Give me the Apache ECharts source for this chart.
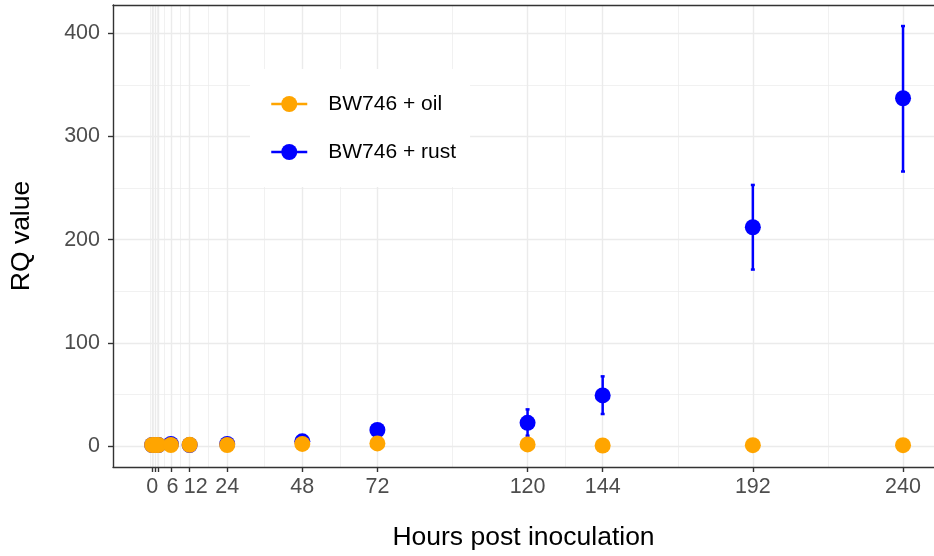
<!DOCTYPE html>
<html lang="en">
<head>
  <meta charset="UTF-8">
  <title>RQ value</title>
  <style>
    html, body { margin: 0; padding: 0; background: #fff; }
  </style>
</head>
<body>
  <div id="main" style="width: 934px; height: 556px;"></div>
  <script src="https://cdn.jsdelivr.net/npm/echarts@6/dist/echarts.min.js"></script>
  <script type="text/javascript">
    // data
    var hours = [0, 1, 2, 6, 12, 24, 48, 72, 120, 144, 192, 240];
    var oil = [1, 1, 1, 1, 1.2, 1, 2, 2.5, 1.5, 0.5, 0.8, 0.8];
    var rust = [1, 1, 1, 2, 1, 2, 4.5, 15.5, 22.5, 49, 212, 337];
    var rustLo = [1, 1, 1, 1.5, 0.8, 1.5, 3.5, 13, 10, 31, 171, 266];
    var rustHi = [1, 1, 1, 2.5, 1.2, 2.5, 5.5, 18, 35.5, 67.5, 253, 407];

    // axis breaks
    var xTicks = [0, 1, 2, 6, 12, 24, 48, 72, 120, 144, 192, 240];
    var xLabels = [0, 6, 12, 24, 48, 72, 120, 144, 192, 240];
    var xMinor = [-0.5, 0.5, 1.5, 4, 9, 18, 36, 60, 96, 132, 168, 216];
    var yTicks = [0, 100, 200, 300, 400];
    var yMinor = [50, 150, 250, 350];

    var font = 'Liberation Sans, Arial, sans-serif';
    var gridCol = '#EBEBEB';
    var border = { show: true, onZero: false, lineStyle: { color: '#333333', width: 1.4 } };

    function gridLines() {
      var d = [];
      xMinor.forEach(function (v) { d.push({ xAxis: v, lineStyle: { width: 0.7 } }); });
      yMinor.forEach(function (v) { d.push({ yAxis: v, lineStyle: { width: 0.7 } }); });
      xTicks.forEach(function (v) { d.push({ xAxis: v, lineStyle: { width: 1.4 } }); });
      yTicks.forEach(function (v) { d.push({ yAxis: v, lineStyle: { width: 1.4 } }); });
      return d;
    }

    function errBar(color) {
      return function (params, api) {
        var x = api.value(0);
        var top = api.coord([x, api.value(2)]);
        var bot = api.coord([x, api.value(1)]);
        var w = 2;
        var st = { stroke: color, lineWidth: 2.5 };
        return {
          type: 'group',
          children: [
            { type: 'line', shape: { x1: top[0], y1: top[1], x2: bot[0], y2: bot[1] }, style: st },
            { type: 'line', shape: { x1: top[0] - w, y1: top[1], x2: top[0] + w, y2: top[1] }, style: st },
            { type: 'line', shape: { x1: bot[0] - w, y1: bot[1], x2: bot[0] + w, y2: bot[1] }, style: st }
          ]
        };
      };
    }

    var myChart = echarts.init(document.getElementById('main'));

    var option = {
      animation: false,
      backgroundColor: '#fff',
      grid: { left: 113, right: 0, top: 5, bottom: 88 },
      legend: {
        orient: 'vertical',
        left: 250, top: 69,
        padding: [24, 14, 24, 20],
        backgroundColor: '#fff',
        itemWidth: 36, itemHeight: 20, itemGap: 26,
        textStyle: { fontFamily: font, fontSize: 21, color: '#000', lineHeight: 22, padding: [0, 0, 0, 16] },
        data: [
          { name: 'BW746 + oil', lineStyle: { color: '#FFA500', width: 2.5, opacity: 1 } },
          { name: 'BW746 + rust', lineStyle: { color: '#0000FF', width: 2.5, opacity: 1 } }
        ]
      },
      xAxis: [{
        type: 'value', min: -12.5, max: 249.9,
        name: 'Hours post inoculation', nameLocation: 'middle', nameGap: 57,
        nameTextStyle: { fontFamily: font, fontSize: 26.5, color: '#000' },
        axisLine: border,
        axisTick: { show: true, inside: false, length: 5, customValues: xTicks, lineStyle: { color: '#333333', width: 1.4 } },
        axisLabel: {
          customValues: xLabels, margin: 9, fontFamily: font, fontSize: 21.5, color: '#4D4D4D',
          formatter: function (v) {
            if (v === 6) return '{s6|6}';
            if (v === 12) return '{s12|12}';
            return String(v);
          },
          rich: {
            s6: { fontFamily: font, fontSize: 21.5, color: '#4D4D4D', padding: [0, 0, 0, 3] },
            s12: { fontFamily: font, fontSize: 21.5, color: '#4D4D4D', padding: [0, 0, 0, 12] }
          }
        },
        splitLine: { show: false }
      }, {
        type: 'value', position: 'top', min: -12.5, max: 249.9,
        axisLine: border, axisTick: { show: false }, axisLabel: { show: false }, splitLine: { show: false }
      }],
      yAxis: {
        type: 'value', min: -20.35, max: 427.4,
        name: 'RQ value', nameLocation: 'middle', nameGap: 78, nameRotate: 90,
        nameTextStyle: { fontFamily: font, fontSize: 26.5, color: '#000' },
        axisLine: border,
        axisTick: { show: true, inside: false, length: 5, customValues: yTicks, lineStyle: { color: '#333333', width: 1.4 } },
        axisLabel: { customValues: yTicks, margin: 13, fontFamily: font, fontSize: 21.5, color: '#4D4D4D' },
        splitLine: { show: false }
      },
      series: [
        {
          name: 'grid', type: 'line', data: [], z: 0, silent: true,
          markLine: {
            z: 0, silent: true, symbol: 'none', label: { show: false },
            lineStyle: { color: gridCol, type: 'solid' },
            data: gridLines()
          }
        },
        {
          name: 'rustErr', type: 'custom', z: 2,
          renderItem: errBar('#0000FF'),
          data: hours.map(function (h, i) { return [h, rustLo[i], rustHi[i]]; })
        },
        {
          name: 'BW746 + rust', type: 'line', z: 3,
          symbol: 'circle', symbolSize: 16, showSymbol: true,
          itemStyle: { color: '#0000FF' },
          lineStyle: { width: 0, opacity: 0 },
          data: hours.map(function (h, i) { return [h, rust[i]]; })
        },
        {
          name: 'BW746 + oil', type: 'line', z: 4,
          symbol: 'circle', symbolSize: 16, showSymbol: true,
          itemStyle: { color: '#FFA500' },
          lineStyle: { width: 0, opacity: 0 },
          data: hours.map(function (h, i) { return [h, oil[i]]; })
        }
      ]
    };
    myChart.setOption(option);
  </script>
</body>
</html>
